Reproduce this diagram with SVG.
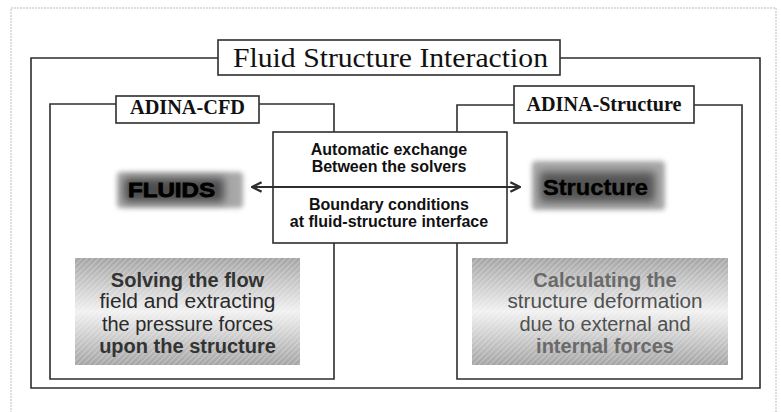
<svg xmlns="http://www.w3.org/2000/svg" width="781" height="412" viewBox="0 0 781 412">
<style>
.frame{fill:none;stroke:#2e2e2e;stroke-width:1.6}
.box{fill:#fff;stroke:#2e2e2e;stroke-width:1.6}
.serif{font-family:"Liberation Serif","Times New Roman",serif;fill:#111}
.sans{font-family:"Liberation Sans",Arial,sans-serif}
.ex{font-family:"Liberation Sans",Arial,sans-serif;font-weight:bold;font-size:16px;fill:#111;text-anchor:middle}
.desc{font-family:"Liberation Sans",Arial,sans-serif;font-size:20px;text-anchor:middle}
</style>
<defs>
<linearGradient id="band" x1="0" y1="0" x2="0" y2="1">
<stop offset="0" stop-color="#a5a5a5"/>
<stop offset="0.25" stop-color="#cbcbcb"/>
<stop offset="0.5" stop-color="#f1f1f1"/>
<stop offset="0.75" stop-color="#cbcbcb"/>
<stop offset="1" stop-color="#a5a5a5"/>
</linearGradient>
<pattern id="hatch" width="4" height="4" patternUnits="userSpaceOnUse" patternTransform="rotate(45)">
<rect width="4" height="4" fill="none"/>
<line x1="0" y1="0" x2="0" y2="4" stroke="#ffffff" stroke-width="1.2" stroke-opacity="0.5"/>
</pattern>
<filter id="soft" x="-20%" y="-40%" width="140%" height="180%">
<feGaussianBlur stdDeviation="2.5"/>
</filter>
<filter id="blur" x="-20%" y="-40%" width="140%" height="180%">
<feGaussianBlur stdDeviation="4"/>
</filter>
<marker id="arr" viewBox="0 0 10 10" refX="9" refY="5" markerWidth="6" markerHeight="6" orient="auto-start-reverse" markerUnits="strokeWidth">
<path d="M1,1 L9,5 L1,9" fill="none" stroke="#2e2e2e" stroke-width="2"/>
</marker>
</defs>
<rect width="781" height="412" fill="#fff"/>
<rect x="11" y="8" width="765" height="420" fill="none" stroke="#bdbdbd" stroke-width="1" stroke-dasharray="2 1"/>

<g id="fsi-frame">
<path class="frame" d="M218,58 H31 V388 H760 V58 H560"/>
<rect class="box" x="218" y="40" width="342" height="35"/>
<text class="serif" x="233" y="67" font-size="28" textLength="315" lengthAdjust="spacingAndGlyphs">Fluid Structure Interaction</text>
</g>

<g id="cfd-frame">
<path class="frame" d="M116,104 H50 V379 H334 V243 M334,132 V104 H259"/>
<rect class="box" x="116" y="96" width="143" height="27"/>
<text class="serif" x="187.5" y="114" font-size="20" font-weight="bold" text-anchor="middle" textLength="115" lengthAdjust="spacingAndGlyphs">ADINA-CFD</text>
</g>

<g id="structure-frame">
<path class="frame" d="M514,105 H457 V132 M457,243 V379 H742 V105 H694"/>
<rect class="box" x="514" y="86" width="180" height="37"/>
<text class="serif" x="604" y="111" font-size="20" font-weight="bold" text-anchor="middle" textLength="155" lengthAdjust="spacingAndGlyphs">ADINA-Structure</text>
</g>

<g id="exchange">
<rect class="box" x="273" y="132" width="234" height="111"/>
<text class="ex" x="389" y="155">Automatic exchange</text>
<text class="ex" x="389" y="172">Between the solvers</text>
<text class="ex" x="389" y="210">Boundary conditions</text>
<text class="ex" x="389" y="227">at fluid-structure interface</text>
</g>

<g id="fluids">
<rect x="117" y="172" width="126" height="36" rx="4" fill="#a8a8a8" filter="url(#soft)"/>
<rect x="124" y="178" width="100" height="24" fill="#4e4e4e" filter="url(#blur)"/>
<text class="sans" x="128" y="197" font-size="21" font-weight="900" fill="#000" stroke="#000" stroke-width="0.8" textLength="87" lengthAdjust="spacingAndGlyphs">FLUIDS</text>
</g>

<g id="structure">
<rect x="532" y="161" width="133" height="49" rx="4" fill="#a8a8a8" filter="url(#soft)"/>
<rect x="540" y="172" width="115" height="30" fill="#545454" filter="url(#blur)"/>
<text class="sans" x="543" y="195" font-size="22" font-weight="bold" fill="#000" stroke="#000" stroke-width="0.4" textLength="105" lengthAdjust="spacingAndGlyphs">Structure</text>
</g>

<g id="fluid-task">
<rect x="75" y="258" width="225" height="107" fill="url(#band)"/>
<rect x="75" y="258" width="225" height="107" fill="url(#hatch)"/>
<text class="desc" x="187.5" y="287" font-weight="bold" fill="#333">Solving the flow</text>
<text class="desc" x="187.5" y="308" fill="#2a2a2a" textLength="176" lengthAdjust="spacingAndGlyphs">field and extracting</text>
<text class="desc" x="187.5" y="331" fill="#2a2a2a">the pressure forces</text>
<text class="desc" x="187.5" y="353" font-weight="bold" fill="#333">upon the structure</text>
</g>

<g id="structure-task">
<rect x="472" y="258" width="256" height="107" fill="url(#band)"/>
<rect x="472" y="258" width="256" height="107" fill="url(#hatch)"/>
<text class="desc" x="605" y="287" font-weight="bold" fill="#6a6a6a">Calculating the</text>
<text class="desc" x="605" y="308" fill="#505050" textLength="195" lengthAdjust="spacingAndGlyphs">structure deformation</text>
<text class="desc" x="605" y="331" fill="#505050">due to external and</text>
<text class="desc" x="605" y="353" font-weight="bold" fill="#6a6a6a">internal forces</text>
</g>

<g id="connectors">
<line x1="252" y1="187" x2="520" y2="187" stroke="#2e2e2e" stroke-width="2" marker-start="url(#arr)" marker-end="url(#arr)"/>
</g>
</svg>
